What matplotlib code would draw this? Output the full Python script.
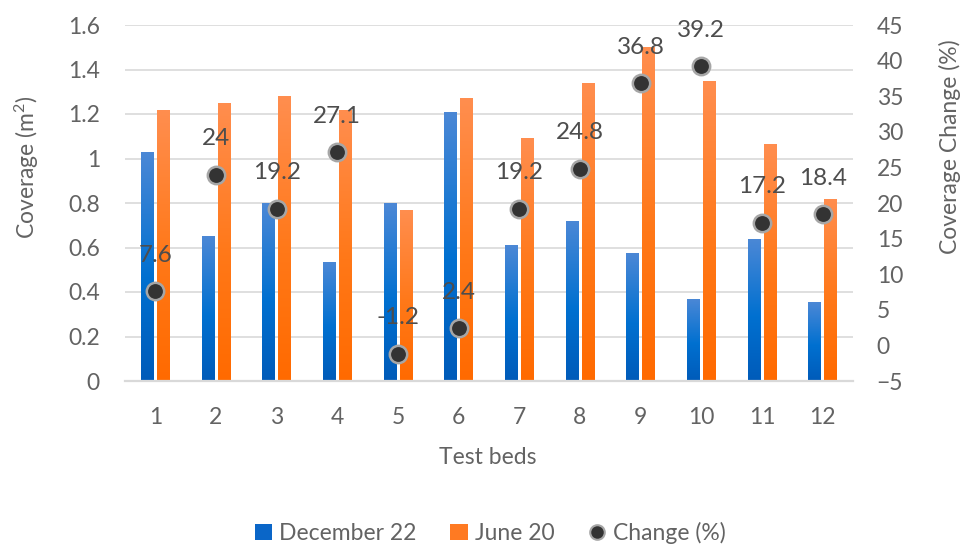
import numpy as np
import matplotlib
matplotlib.use("Agg")
import matplotlib.pyplot as plt
from matplotlib.colors import LinearSegmentedColormap
from matplotlib.lines import Line2D
from matplotlib.patches import Patch

# ---- data ----
beds = ["1", "2", "3", "4", "5", "6", "7", "8", "9", "10", "11", "12"]
december_22 = [1.03, 0.65, 0.80, 0.535, 0.80, 1.21, 0.61, 0.72, 0.575, 0.37, 0.64, 0.355]
june_20 = [1.22, 1.25, 1.28, 1.22, 0.77, 1.27, 1.09, 1.34, 1.50, 1.35, 1.065, 0.82]
change_pct = [7.6, 24, 19.2, 27.1, -1.2, 2.4, 19.2, 24.8, 36.8, 39.2, 17.2, 18.4]
change_labels = ["7.6", "24", "19.2", "27.1", "-1.2", "2.4", "19.2", "24.8", "36.8", "39.2", "17.2", "18.4"]
left_ticks = [0, 0.2, 0.4, 0.6, 0.8, 1.0, 1.2, 1.4, 1.6]
left_tick_labels = ["0", "0.2", "0.4", "0.6", "0.8", "1", "1.2", "1.4", "1.6"]
right_ticks = [-5, 0, 5, 10, 15, 20, 25, 30, 35, 40, 45]

plt.rcParams["font.family"] = ["Lato", "DejaVu Sans"]
plt.rcParams["mathtext.fontset"] = "custom"
plt.rcParams["mathtext.rm"] = "Lato"
plt.rcParams["mathtext.it"] = "Lato"
TEXT = "#636363"
GRID = "#d9d9d9"
FS = 16.5

blue_cmap = LinearSegmentedColormap.from_list(
    "blue_grad", [(0.0, "#005bb9"), (0.45, "#0070d0"), (1.0, "#4c88d6")])
orange_cmap = LinearSegmentedColormap.from_list(
    "orange_grad", [(0.0, "#ff6a00"), (0.45, "#ff7818"), (1.0, "#ff8e4f")])

fig = plt.figure(figsize=(9.7, 5.45), dpi=100)
ax = fig.add_axes([125 / 970, 1 - 381 / 545, (853 - 125) / 970, (381 - 25) / 545])
ax2 = ax.twinx()

x = np.arange(1, len(beds) + 1)
bar_w = 0.214
offset = 0.132


def gradient_bars(axis, xs, heights, cmap):
    bars = axis.bar(xs, heights, bar_w, color="none", edgecolor="none", zorder=2)
    grad = np.linspace(0, 1, 256).reshape(-1, 1)
    for rect in bars:
        x0, w, h = rect.get_x(), rect.get_width(), rect.get_height()
        im = axis.imshow(grad, extent=[x0, x0 + w, 0, h], origin="lower",
                         cmap=cmap, aspect="auto", zorder=2,
                         interpolation="bilinear")
        im.set_clip_path(rect)
    return bars


gradient_bars(ax, x - offset, december_22, blue_cmap)
gradient_bars(ax, x + offset, june_20, orange_cmap)

ax.set_xlim(0.5, len(beds) + 0.5)
ax.set_ylim(0, 1.6)
ax.set_yticks(left_ticks)
ax.set_yticklabels(left_tick_labels)
ax.set_xticks(x)
ax.set_xticklabels(beds)
ax.grid(axis="y", color=GRID, linewidth=1.2, zorder=0)
ax.set_axisbelow(True)
for s in ["top", "left", "right"]:
    ax.spines[s].set_visible(False)
ax.spines["bottom"].set_color(GRID)
ax.spines["bottom"].set_linewidth(1.6)
ax.tick_params(axis="both", length=0, labelsize=FS, labelcolor=TEXT)
ax.tick_params(axis="y", pad=18)
ax.tick_params(axis="x", pad=19)

# change markers on the secondary axis
ax2.plot(x, change_pct, linestyle="none", marker="o", markersize=12.5,
         markerfacecolor="#333333", markeredgecolor="#a6a6a6",
         markeredgewidth=1.8, zorder=5)
for xi, v, lab in zip(x, change_pct, change_labels):
    ax2.annotate(lab, (xi, v), xytext=(0, 26), textcoords="offset points",
                 ha="center", va="center", fontsize=FS + 1, color="#4d4d4d",
                 zorder=6)
ax2.set_ylim(-5, 45)
ax2.set_yticks(right_ticks)
for s in ax2.spines.values():
    s.set_visible(False)
ax2.tick_params(axis="y", length=0, labelsize=FS, labelcolor=TEXT, pad=17)

# axis titles
fig.text(27 / 970, 1 - 167 / 545, r"Coverage (m$^{2}$)", rotation=90, ha="center",
         va="center", fontsize=FS, color=TEXT)
fig.text(950 / 970, 1 - 147 / 545, "Coverage Change (%)", rotation=90,
         ha="center", va="center", fontsize=FS, color=TEXT)
fig.text(488 / 970, 1 - 457 / 545, "Test beds", ha="center", va="center",
         fontsize=FS, color=TEXT)

handles = [
    Patch(facecolor="#0a66c8", edgecolor="none", label="December 22"),
    Patch(facecolor="#ff7a22", edgecolor="none", label="June 20"),
    Line2D([], [], linestyle="none", marker="o", markersize=10.5,
           markerfacecolor="#333333", markeredgecolor="#a6a6a6",
           markeredgewidth=1.5, label="Change (%)"),
]
leg = fig.legend(handles=handles, loc="center", bbox_to_anchor=(490 / 970, 1 - 533 / 545),
                 ncol=3, frameon=False, fontsize=FS, handlelength=0.75,
                 handleheight=0.75, handletextpad=0.3, columnspacing=1.5)
for t in leg.get_texts():
    t.set_color(TEXT)

fig.savefig("out.png", dpi=100)
